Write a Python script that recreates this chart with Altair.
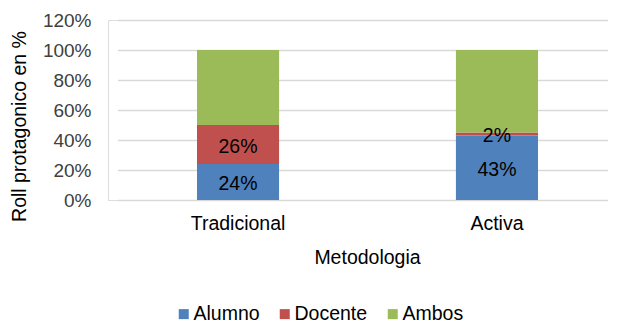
import altair as alt
import pandas as pd

metodologia = ["Tradicional", "Activa"]
series = ["Alumno", "Docente", "Ambos"]
alumno = [0.24, 0.43]
docente = [0.26, 0.02]
ambos = [0.50, 0.55]
colors = ["#4F81BD", "#C0504D", "#9BBB59"]
y_ticks = [0, 0.2, 0.4, 0.6, 0.8, 1.0, 1.2]

rows = []
for i, m in enumerate(metodologia):
    for k, (s, vals) in enumerate(zip(series, [alumno, docente, ambos])):
        rows.append({"Metodologia": m, "Serie": s, "orden": k, "valor": vals[i],
                     "etiqueta": f"{round(vals[i]*100)}%" if s != "Ambos" else ""})
df = pd.DataFrame(rows)

FONT = "Liberation Sans"
GREY = "#404040"
FS = 19.5

x_scale = alt.Scale(paddingInner=0.683, paddingOuter=0.307, range=[9.5, 509.5])
x_axis = alt.Axis(title="Metodologia", labelAngle=0, labelFontSize=FS, labelFont=FONT,
                  labelColor="#000000", titleFontSize=FS, titleFont=FONT,
                  titleFontWeight="normal", titleColor="#000000", ticks=False,
                  domain=False, labelPadding=14, titlePadding=16,
                  titleX=259, titleAnchor="middle")
y_scale = alt.Scale(domain=[0, 1.2], nice=False)
y_axis = alt.Axis(title="Roll protagonico en %", format=".0%", values=y_ticks,
                  labelFontSize=19, labelFont=FONT, labelColor=GREY, labelOverlap=False,
                  titleFontSize=FS, titleFont=FONT, titleFontWeight="normal",
                  titleColor="#000000", ticks=False, domain=False, labelPadding=17,
                  gridColor="#D9D9D9", gridWidth=1.5,
                  titleX=-79, titleY=106, titleAnchor="middle")

bars = alt.Chart(df).mark_bar().encode(
    x=alt.X("Metodologia:N", sort=metodologia, scale=x_scale, axis=x_axis),
    y=alt.Y("valor:Q", stack="zero", scale=y_scale, axis=y_axis),
    color=alt.Color("Serie:N", sort=series,
                    scale=alt.Scale(domain=series, range=colors),
                    legend=alt.Legend(title=None, orient="none", direction="horizontal",
                                      legendX=66, legendY=284, symbolType="square",
                                      symbolSize=100, symbolStrokeWidth=0,
                                      labelFontSize=FS, labelFont=FONT, labelColor="#000000",
                                      labelOffset=0, columnPadding=15)),
    order=alt.Order("orden:Q"),
)

labels = alt.Chart(df).transform_stack(
    stack="valor", groupby=["Metodologia"], as_=["y0", "y1"],
    sort=[alt.SortField("orden", order="ascending")]
).transform_calculate(
    mid="(datum.y0 + datum.y1) / 2"
).transform_filter(
    "datum.Serie != 'Ambos'"
).mark_text(fontSize=FS, font=FONT, color="#000000", baseline="middle", dy=2).encode(
    x=alt.X("Metodologia:N", sort=metodologia, scale=x_scale, axis=x_axis),
    y=alt.Y("mid:Q", scale=y_scale, axis=y_axis),
    text="etiqueta:N",
)

chart = alt.layer(bars, labels).properties(
    width=500, height=180,
    autosize=alt.AutoSizeParams(type="none"),
    padding={"left": 100, "top": 12, "right": 0, "bottom": 123},
).configure_view(stroke=None).configure(background="white")

chart.save("out.html", embed_options={"renderer": "svg", "actions": False})
